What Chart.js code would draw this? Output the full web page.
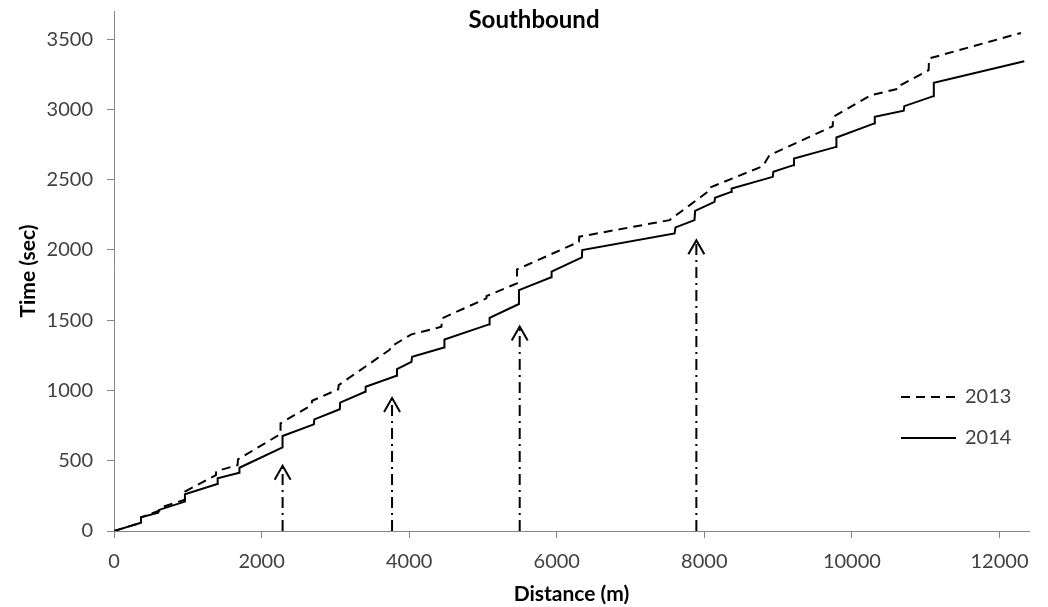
<!DOCTYPE html>
<html><head><meta charset="utf-8">
<script src="https://cdn.jsdelivr.net/npm/chart.js@4"></script>
<style>html,body{margin:0;padding:0;background:#fff}#wrap{width:1048px;height:607px}</style>
</head><body><div id="wrap"><canvas id="c" width="1048" height="607"></canvas></div>
<script>
const chartTitle = 'Southbound';
const xTitle = 'Distance (m)';
const yTitle = 'Time (sec)';
const seriesLabels = ['2013', '2014'];

const dist2013 = [0, 366, 366, 640, 650, 961, 961, 1381, 1385, 1675, 1680, 2257, 2257, 2677, 2685, 3038, 3045, 3737, 3745, 4031, 4437, 4445, 5046, 5050, 5461, 5461, 6301, 6305, 7529, 8070, 8080, 8793, 8883, 9740, 9745, 10260, 10643, 10650, 11040, 11045, 12291];
const time2013 = [0, 59, 97, 150, 170, 223, 280, 398, 425, 469, 510, 690, 766, 896, 927, 1008, 1038, 1290, 1310, 1399, 1453, 1513, 1655, 1672, 1762, 1861, 2058, 2094, 2212, 2423, 2445, 2596, 2674, 2880, 2947, 3101, 3149, 3170, 3279, 3362, 3544];

const dist2014 = [0, 366, 366, 600, 610, 961, 961, 1399, 1405, 1697, 1700, 2284, 2284, 2708, 2715, 3060, 3065, 3403, 3410, 3828, 3835, 4031, 4040, 4473, 4478, 5082, 5090, 5488, 5488, 5925, 5930, 6341, 6345, 7597, 7610, 7867, 7875, 8138, 8145, 8363, 8370, 8928, 8935, 9208, 9215, 9786, 9790, 10304, 10310, 10702, 10710, 11104, 11110, 12336];
const time2014 = [0, 59, 97, 130, 150, 209, 261, 334, 375, 415, 450, 595, 676, 759, 794, 866, 913, 991, 1026, 1105, 1152, 1204, 1240, 1306, 1363, 1470, 1517, 1615, 1714, 1805, 1845, 1947, 1999, 2117, 2160, 2212, 2278, 2342, 2371, 2413, 2437, 2520, 2556, 2603, 2651, 2733, 2800, 2900, 2947, 2990, 3023, 3094, 3189, 3343];

const arrowDist = [2285, 3768, 5498, 7892];
const arrowTipTime = [465, 947, 1455, 2068];

const xTicks = [0, 2000, 4000, 6000, 8000, 10000, 12000];
const yTicks = [0, 500, 1000, 1500, 2000, 2500, 3000, 3500];

const FONT = 'Lato, "Open Sans", sans-serif';
const AXIS = '#868686';
const TXT = '#404040';

const toPts = (xs, ys) => xs.map((x, i) => ({x: x, y: ys[i]}));

const datasets = [
  {label: seriesLabels[0], data: toPts(dist2013, time2013), borderColor: '#000', borderWidth: 2, borderDash: [9, 6], pointRadius: 0, showLine: true, fill: false, tension: 0, isSeries: true},
  {label: seriesLabels[1], data: toPts(dist2014, time2014), borderColor: '#000', borderWidth: 2, borderDash: [], pointRadius: 0, showLine: true, fill: false, tension: 0, isSeries: true}
];
arrowDist.forEach((d, i) => {
  datasets.push({label: 'arrow' + i, data: [{x: d, y: 0}, {x: d, y: arrowTipTime[i]}], borderColor: '#000', borderWidth: 2, borderDash: [11, 5, 2, 5], pointRadius: 0, showLine: true, fill: false});
});

const overlay = {
  id: 'overlay',
  afterDatasetsDraw(chart) {
    const ctx = chart.ctx, xs = chart.scales.x, ys = chart.scales.y;
    ctx.save();
    ctx.strokeStyle = '#000'; ctx.lineWidth = 2; ctx.setLineDash([]);
    arrowDist.forEach((d, i) => {
      const px = xs.getPixelForValue(d), py = ys.getPixelForValue(arrowTipTime[i]);
      ctx.beginPath();
      ctx.moveTo(px - 8, py + 14); ctx.lineTo(px, py); ctx.lineTo(px + 8, py + 14);
      ctx.stroke();
    });
    ctx.fillStyle = '#000';
    ctx.font = 'bold 24px ' + FONT;
    ctx.textAlign = 'center'; ctx.textBaseline = 'middle';
    ctx.fillText(chartTitle, 534, 20);
    const items = chart.data.datasets.filter(d => d.isSeries);
    const rows = [397, 438];
    items.forEach((ds, i) => {
      const y = rows[i];
      ctx.strokeStyle = ds.borderColor; ctx.lineWidth = 2; ctx.setLineDash(ds.borderDash || []);
      ctx.beginPath(); ctx.moveTo(901, y); ctx.lineTo(956, y); ctx.stroke();
      ctx.setLineDash([]);
      ctx.fillStyle = TXT; ctx.font = '20px ' + FONT; ctx.textAlign = 'left'; ctx.textBaseline = 'middle';
      ctx.fillText(ds.label, 965, y);
    });
    ctx.restore();
  }
};

new Chart(document.getElementById('c'), {
  type: 'scatter',
  data: {datasets: datasets},
  options: {
    responsive: false,
    animation: false,
    devicePixelRatio: 1,
    layout: {padding: {top: 11, right: 19, left: 0, bottom: 0}},
    plugins: {legend: {display: false}, tooltip: {enabled: false}, title: {display: false}},
    scales: {
      x: {
        type: 'linear', min: 0, max: 12400,
        afterFit: s => { s.height = 76; s.paddingLeft = 0; s.paddingRight = 0; },
        afterBuildTicks: s => { s.ticks = xTicks.map(v => ({value: v})); },
        ticks: {font: {family: FONT, size: 20}, color: TXT, padding: 12, maxRotation: 0, includeBounds: false, callback: v => String(v)},
        grid: {drawOnChartArea: false, drawTicks: true, tickLength: 7, color: AXIS},
        border: {display: true, color: AXIS, width: 1},
        title: {display: true, text: xTitle, font: {family: FONT, size: 21, weight: 'bold'}, color: '#000', padding: {top: 0, bottom: 0}}
      },
      y: {
        type: 'linear', min: 0, max: 3700,
        afterFit: s => { s.width = 114; s.paddingTop = 0; s.paddingBottom = 0; },
        afterBuildTicks: s => { s.ticks = yTicks.map(v => ({value: v})); },
        ticks: {font: {family: FONT, size: 20}, color: TXT, padding: 14, includeBounds: false, callback: v => String(v)},
        grid: {drawOnChartArea: false, drawTicks: true, tickLength: 7, color: AXIS},
        border: {display: true, color: AXIS, width: 1},
        title: {display: true, text: yTitle, font: {family: FONT, size: 21, weight: 'bold'}, color: '#000', padding: {top: 16, bottom: 0}}
      }
    }
  },
  plugins: [overlay]
});
</script>
</body></html>
